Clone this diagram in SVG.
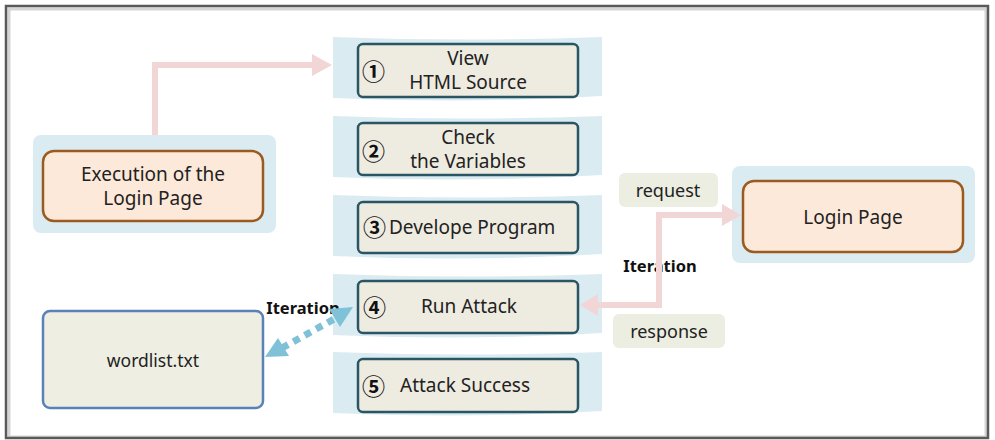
<svg xmlns="http://www.w3.org/2000/svg" width="995" height="440" viewBox="0 0 995 440">
  <defs>
    <style>
      text { font-family: "Noto Sans", "Noto Sans CJK KR", "Liberation Sans", sans-serif; fill: #222; }
      .t { font-size: 19px; text-anchor: middle; }
      .num { font-family: "Noto Sans CJK KR", "Noto Sans", sans-serif; font-size: 23px; font-weight: bold; fill: #111; }
      .lbl { font-size: 18px; text-anchor: middle; }
      .bold { font-size: 16.5px; font-weight: bold; text-anchor: middle; fill: #111; }
      .band { fill: #daecf2; }
      .step { fill: #eeebe1; stroke: #2a5663; stroke-width: 2.5; }
      .panel { fill: #daecf2; }
      .orange { fill: #fde9d9; stroke: #9a5a20; stroke-width: 2.5; }
      .tag { fill: #ebeee0; }
      .pink { fill: none; stroke: #f2d5d5; stroke-width: 6; }
      .pinkhead { fill: #f2d5d5; }
      .bluedash { fill: none; stroke: #7fc1d6; stroke-width: 7; stroke-dasharray: 7 6; }
      .bluehead { fill: #7fc1d6; }
    </style>
  </defs>
  <rect width="995" height="440" fill="#ffffff"/>
  <!-- frame -->
  <rect x="9" y="9" width="977" height="428" fill="none" stroke="#d5d5d5" stroke-width="3"/>
  <rect x="6" y="6" width="982" height="432" fill="none" stroke="#5a5a5a" stroke-width="2.5"/>

  <!-- steps -->
  <g id="step1">
    <path class="band" d="M333,37 Q470,42 602,37 V96 Q470,104 333,98 Z"/>
    <rect class="step" x="358" y="44" width="220" height="53" rx="5"/>
    <text class="num" x="362" y="80">①</text>
    <text class="t" x="468" y="65">View</text>
    <text class="t" x="468" y="89">HTML Source</text>
  </g>
  <g id="step2">
    <path class="band" d="M333,116 Q470,121 602,116 V175 Q470,183 333,177 Z"/>
    <rect class="step" x="358" y="123" width="220" height="52" rx="5"/>
    <text class="num" x="362" y="160">②</text>
    <text class="t" x="468" y="144">Check</text>
    <text class="t" x="468" y="168">the Variables</text>
  </g>
  <g id="step3">
    <path class="band" d="M333,195 Q470,200 602,195 V254 Q470,262 333,256 Z"/>
    <rect class="step" x="358" y="202" width="220" height="51" rx="5"/>
    <text class="num" x="363" y="236">③</text>
    <text x="389" y="234" style="font-size:19px">Develope Program</text>
  </g>
  <g id="step4">
    <path class="band" d="M333,274 Q470,279 602,274 V333 Q470,341 333,335 Z"/>
    <rect class="step" x="358" y="281" width="220" height="52" rx="5"/>
    <text class="num" x="363" y="316">④</text>
    <text class="t" x="469" y="313">Run Attack</text>
  </g>
  <g id="step5">
    <path class="band" d="M333,352 Q470,357 602,352 V411 Q470,419 333,413 Z"/>
    <rect class="step" x="358" y="359" width="220" height="53" rx="5"/>
    <text class="num" x="362" y="395">⑤</text>
    <text x="400" y="392" style="font-size:19px">Attack Success</text>
  </g>

  <!-- execution -->
  <g id="execution">
    <rect class="panel" x="33" y="135" width="243" height="98" rx="8"/>
    <rect class="orange" x="43" y="151" width="220" height="70" rx="11"/>
    <text class="t" x="153" y="181">Execution of the</text>
    <text class="t" x="153" y="205">Login Page</text>
  </g>

  <!-- login page -->
  <g id="loginpage">
    <rect class="panel" x="732" y="166" width="243" height="97" rx="8"/>
    <rect class="orange" x="743" y="181" width="220" height="71" rx="11"/>
    <text class="t" x="853" y="224">Login Page</text>
  </g>

  <!-- wordlist -->
  <g id="wordlist">
    <rect x="43" y="311" width="220" height="97" rx="7" fill="#eeeee2" stroke="#5a82b8" stroke-width="2.5"/>
    <text x="153" y="367" style="font-size:17.5px" text-anchor="middle">wordlist.txt</text>
  </g>

  <!-- labels -->
  <g id="request">
    <rect class="tag" x="619" y="173" width="99" height="34" rx="6"/>
    <text class="lbl" x="668" y="197">request</text>
  </g>
  <g id="response">
    <rect class="tag" x="613" y="314" width="112" height="34" rx="6"/>
    <text class="lbl" x="669" y="338">response</text>
  </g>
  <g id="iteration-right">
    <text class="bold" x="660" y="272">Iteration</text>
  </g>
  <g id="iteration-left">
    <text class="bold" x="303" y="314">Iteration</text>
  </g>

  <!-- connectors -->
  <g id="connectors">
    <path class="pink" d="M155,135 V65 H314"/>
    <polygon class="pinkhead" points="332,65 312,54 312,76"/>
    <path class="pink" d="M596,305 H659 V215 H724"/>
    <polygon class="pinkhead" points="741,215 722,204 722,226"/>
    <polygon class="pinkhead" points="580,305 598,294 598,316"/>
    <path class="bluedash" d="M282,348 L336,318"/>
    <polygon class="bluehead" points="265,357 278,338 289,356"/>
    <polygon class="bluehead" points="353,307 329,309 340,327"/>
  </g>
</svg>
